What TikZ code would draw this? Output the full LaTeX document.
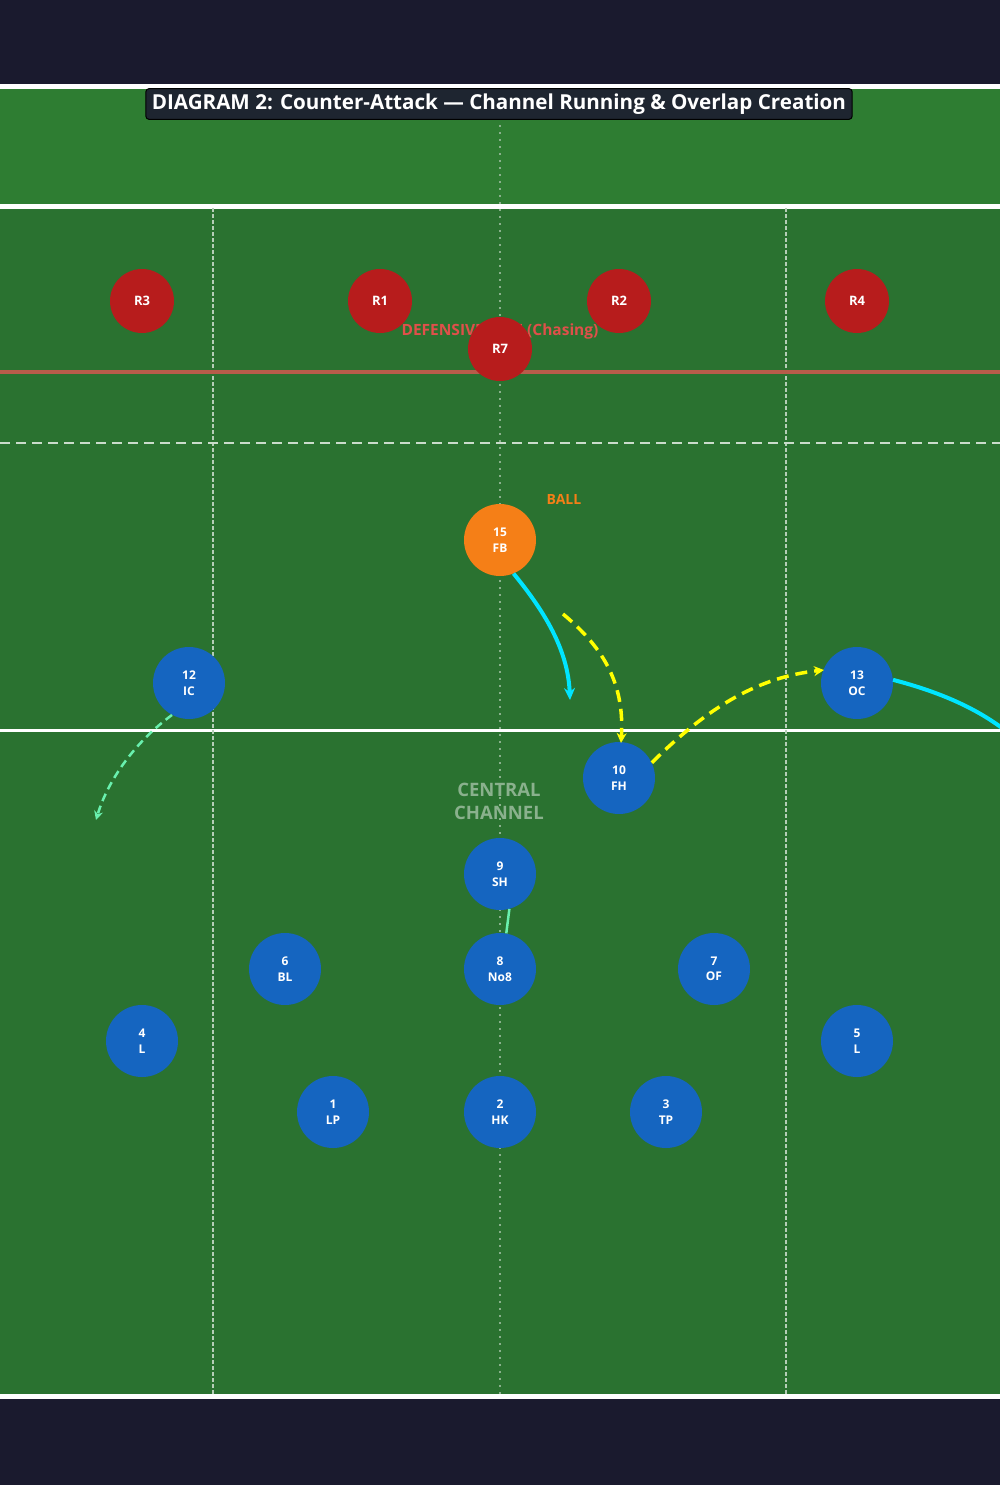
\documentclass[tikz,border=0pt]{standalone}
\usepackage{fontspec}
\setmainfont{Open Sans}
\usetikzlibrary{arrows.meta}
\definecolor{bg}{HTML}{1A1A2E}
\definecolor{fieldA}{HTML}{2E7D32}
\definecolor{fieldB}{HTML}{2A7230}
\definecolor{redp}{HTML}{B71C1C}
\definecolor{bluep}{HTML}{1565C0}
\definecolor{orp}{HTML}{F57F17}
\definecolor{cyanl}{HTML}{00E5FF}
\definecolor{yel}{HTML}{FFFF00}
\definecolor{lgreen}{HTML}{69F0AE}
\definecolor{defl}{HTML}{B85C4A}
\definecolor{deftxt}{HTML}{E0504A}
\definecolor{titlebg}{HTML}{1E2530}
\tikzset{
 red/.style={circle,fill=redp,minimum size=64pt,inner sep=0,text=white,font=\bfseries\fontsize{13}{15}\selectfont},
 blue/.style={circle,fill=bluep,minimum size=72pt,inner sep=0,text=white,align=center,font=\bfseries\fontsize{12}{15.5}\selectfont},
 ball/.style={blue,fill=orp},
 runc/.style={cyanl,line width=4pt,-{Stealth[length=12pt,width=11pt]}},
 runy/.style={yel,line width=3.5pt,dash pattern=on 12pt off 7pt,-{Stealth[length=10pt,width=10pt]}},
 rung/.style={lgreen,line width=2.5pt,dash pattern=on 8pt off 5pt,-{Stealth[length=9pt,width=9pt]}},
}
\begin{document}
\begin{tikzpicture}[x=1pt,y=-1pt]
\useasboundingbox (0,0) rectangle (1000,1485);
\fill[bg] (0,0) rectangle (1000,1485);
\fill[fieldA] (0,87) rectangle (1000,206);
\fill[fieldB] (0,206) rectangle (1000,1396);
\draw[white,line width=5pt] (0,87) -- (1000,87);
\draw[white,line width=5pt] (0,206) -- (1000,206);
\draw[white,line width=5pt] (0,1396) -- (1000,1396);
\draw[white,line width=3pt] (0,730) -- (1000,730);
\draw[white!65!fieldB,line width=1.2pt,dash pattern=on 4pt off 2pt] (213,208) -- (213,1394);
\draw[white!65!fieldB,line width=1.2pt,dash pattern=on 4pt off 2pt] (786,208) -- (786,1394);
\draw[white!45!fieldB,line width=1.5pt,dash pattern=on 2pt off 5pt] (500,90) -- (500,1394);
\draw[defl,line width=3.5pt] (0,372) -- (1000,372);
\draw[white!75!fieldB,line width=2.5pt,dash pattern=on 10pt off 6pt] (0,443) -- (1000,443);
\node[fill=titlebg,draw=black,line width=1pt,rounded corners=3pt,text=white,font=\bfseries\fontsize{20.6}{24}\selectfont,inner xsep=6pt,inner ysep=5pt] (title) at (499,104) {DIAGRAM 2: Counter-Attack — Channel Running \& Overlap Creation};
\node[text=deftxt,font=\bfseries\fontsize{15.5}{18}\selectfont] (deftext) at (500,331) {DEFENSIVE LINE (Chasing)};
\node[text=orp,font=\bfseries\fontsize{14}{16}\selectfont] (balltxt) at (564,499) {BALL};
\node[text=white!45!fieldB,font=\bfseries\fontsize{18.5}{23}\selectfont,align=center] (cc) at (499,801) {CENTRAL\\CHANNEL};
\node[red] (r3) at (142,301) {R3};
\node[red] (r1) at (380,301) {R1};
\node[red] (r2) at (619,301) {R2};
\node[red] (r4) at (857,301) {R4};
\node[red] (r7) at (500,349) {R7};
\node[ball] (p15) at (500,540) {15\\FB};
\node[blue] (p12) at (189,683) {12\\IC};
\node[blue] (p13) at (857,683) {13\\OC};
\node[blue] (p10) at (619,778) {10\\FH};
\node[blue] (p9) at (500,874) {9\\SH};
\node[blue] (p6) at (285,969) {6\\BL};
\node[blue] (p8) at (500,969) {8\\No8};
\node[blue] (p7) at (714,969) {7\\OF};
\node[blue] (p4) at (142,1041) {4\\L};
\node[blue] (p5) at (857,1041) {5\\L};
\node[blue] (p1) at (333,1112) {1\\LP};
\node[blue] (p2) at (500,1112) {2\\HK};
\node[blue] (p3) at (666,1112) {3\\TP};
\coordinate (c1) at (570,700);
\coordinate (y0) at (563,614);
\coordinate (y1) at (621,743);
\coordinate (y2) at (824,670);
\coordinate (c2) at (1002,728);
\coordinate (g1) at (96,820);
\draw[runc] (p15.-68) .. controls (545,612) and (568,650) .. (c1);
\draw[runy] (y0) .. controls (600,645) and (625,680) .. (y1);
\draw[runy] (p10.25) .. controls (710,705) and (760,677) .. (y2);
\draw[cyanl,line width=4pt] (p13.5) .. controls (940,692) and (975,708) .. (c2);
\draw[rung] (p12.-118) .. controls (135,742) and (108,780) .. (g1);
\draw[lgreen,line width=2.5pt] (p9.-75) -- (p8.80);
\end{tikzpicture}
\end{document}
